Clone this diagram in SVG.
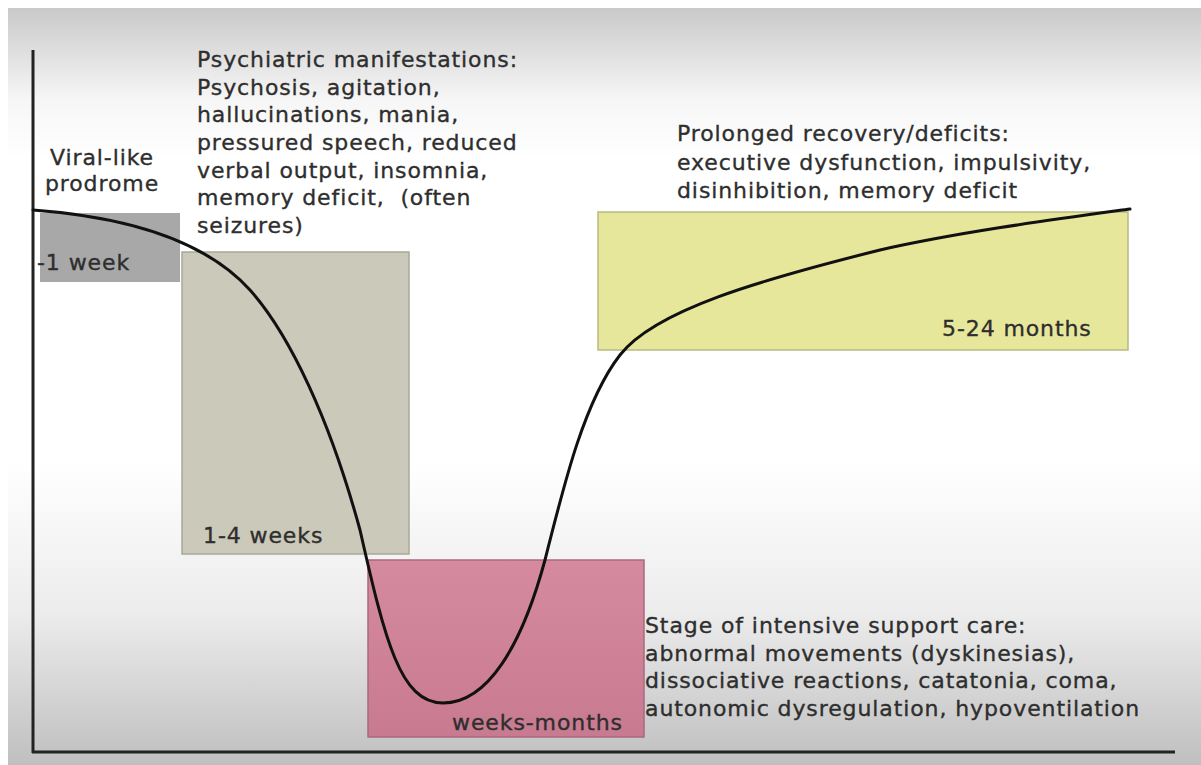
<svg xmlns="http://www.w3.org/2000/svg" width="1201" height="765" viewBox="0 0 1201 765">
  <defs>
    <linearGradient id="bg" x1="0" y1="0" x2="0" y2="1">
      <stop offset="0" stop-color="#c9c9c9"/>
      <stop offset="0.12" stop-color="#f6f6f6"/>
      <stop offset="0.2" stop-color="#ffffff"/>
      <stop offset="0.6" stop-color="#ffffff"/>
      <stop offset="0.8" stop-color="#ececec"/>
      <stop offset="1" stop-color="#bfbfbf"/>
    </linearGradient>
    <linearGradient id="pinkg" x1="0" y1="0" x2="0" y2="1">
      <stop offset="0" stop-color="#d68aa0"/>
      <stop offset="1" stop-color="#c77a90"/>
    </linearGradient>
    <style>
      .t { font-family: "DejaVu Sans", Verdana, sans-serif; font-size: 22px; letter-spacing: 0.9px; fill: #2e2e2e; stroke: #2e2e2e; stroke-width: 0.35px; white-space: pre; }
      .axis { stroke: #222222; stroke-width: 3; fill: none; }
      .curve { stroke: #111111; stroke-width: 3; fill: none; stroke-linecap: round; }
    </style>
  </defs>

  <rect x="0" y="0" width="1201" height="765" fill="#ffffff"/>
  <rect x="8" y="8" width="1193" height="757" fill="url(#bg)"/>

  <g id="axes">
    <line class="axis" x1="33" y1="50" x2="33" y2="753"/>
    <line class="axis" x1="32" y1="752" x2="1175" y2="752"/>
  </g>

  <g id="prodrome">
    <rect x="40" y="213" width="140" height="69" fill="#a8a8a8"/>
    <text class="t" x="102" y="165" text-anchor="middle">Viral-like</text>
    <text class="t" x="102" y="191" text-anchor="middle">prodrome</text>
    <text class="t" x="37" y="270">-1 week</text>
  </g>

  <g id="psychiatric">
    <rect x="182" y="252" width="227" height="302" fill="#cbc9b9" stroke="#a9a79b" stroke-width="1.5"/>
    <text class="t" x="197" y="67">Psychiatric manifestations:</text>
    <text class="t" x="197" y="95">Psychosis, agitation,</text>
    <text class="t" x="197" y="122">hallucinations, mania,</text>
    <text class="t" x="197" y="150">pressured speech, reduced</text>
    <text class="t" x="197" y="178">verbal output, insomnia,</text>
    <text class="t" x="197" y="205" xml:space="preserve">memory deficit,  (often</text>
    <text class="t" x="197" y="233">seizures)</text>
    <text class="t" x="203" y="543">1-4 weeks</text>
  </g>

  <g id="intensive">
    <rect x="368" y="560" width="276" height="177" fill="url(#pinkg)" stroke="#a86a7e" stroke-width="1.5"/>
    <text class="t" x="452" y="730">weeks-months</text>
    <text class="t" x="645" y="633">Stage of intensive support care:</text>
    <text class="t" x="645" y="661">abnormal movements (dyskinesias),</text>
    <text class="t" x="645" y="688">dissociative reactions, catatonia, coma,</text>
    <text class="t" x="645" y="716">autonomic dysregulation, hypoventilation</text>
  </g>

  <g id="recovery">
    <rect x="598" y="212" width="530" height="138" fill="#e7e79b" stroke="#b9b985" stroke-width="1.5"/>
    <text class="t" x="942" y="336">5-24 months</text>
    <text class="t" x="677" y="141">Prolonged recovery/deficits:</text>
    <text class="t" x="677" y="170">executive dysfunction, impulsivity,</text>
    <text class="t" x="677" y="198">disinhibition, memory deficit</text>
  </g>

  <g id="connectors">
    <path class="curve" d="M33,210 C100,215 196,230 250,290 C290,335 330,420 360,530 C385,640 400,703 443,703 C488,703 522,645 545,560 C565,480 585,400 620,355 C655,310 760,280 880,250 C960,232 1050,220 1130,209"/>
  </g>
</svg>
